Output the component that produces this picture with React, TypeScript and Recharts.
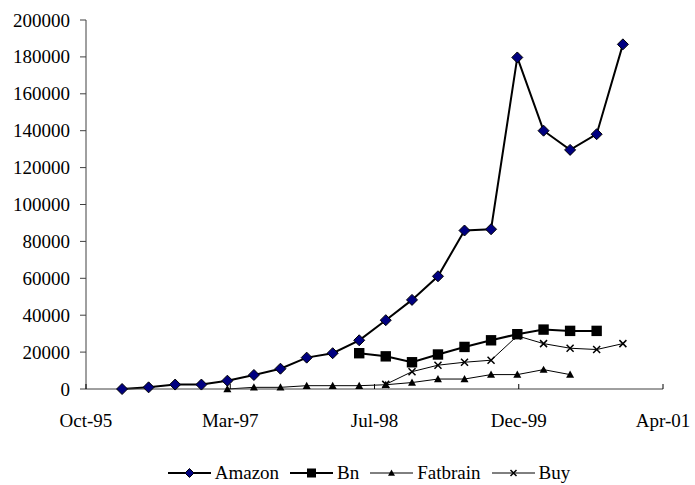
import React from "react"
import { LineChart, Line, XAxis, YAxis, Legend } from "recharts"

// quarterly observations (first day of the quarter's last month)
const quarters = [
  "Mar-96", "Jun-96", "Sep-96", "Dec-96", "Mar-97", "Jun-97", "Sep-97", "Dec-97",
  "Mar-98", "Jun-98", "Sep-98", "Dec-98", "Mar-99", "Jun-99", "Sep-99", "Dec-99",
  "Mar-00", "Jun-00", "Sep-00", "Dec-00",
]

const amazon = [
  0, 900, 2400, 2400, 4500, 7600, 11000, 17000, 19400, 26400,
  37300, 48300, 61100, 85900, 86600, 179700, 140000, 129600, 138100, 186800,
]
const bn = [
  null, null, null, null, null, null, null, null, null, 19400,
  17700, 14500, 18700, 22800, 26400, 29700, 32200, 31500, 31500, null,
]
const fatbrain = [
  null, null, null, null, 0, 900, 900, 1800, 1800, 1800,
  2300, 3500, 5400, 5400, 7800, 7800, 10500, 7800, null, null,
]
const buy = [
  null, null, null, null, null, null, null, null, null, null,
  2500, 9400, 12900, 14500, 15600, 28800, 24600, 22100, 21400, 24600,
]

const yTicks = [0, 20000, 40000, 60000, 80000, 100000, 120000, 140000, 160000, 180000, 200000]
// excel date serials, 500 days apart
const xTicks = [35000, 35500, 36000, 36500, 37000]
const xTickLabels = ["Oct-95", "Mar-97", "Jul-98", "Dec-99", "Apr-01"]

const monthNames = ["Jan", "Feb", "Mar", "Apr", "May", "Jun", "Jul", "Aug", "Sep", "Oct", "Nov", "Dec"]

function toSerial(label: string) {
  const [m, y] = label.split("-")
  const yy = Number(y) < 50 ? 2000 + Number(y) : 1900 + Number(y)
  return Date.UTC(yy, monthNames.indexOf(m), 1) / 86400000 + 25569
}

const data = quarters.map((q, i) => ({
  x: toSerial(q),
  Amazon: amazon[i],
  Bn: bn[i],
  Fatbrain: fatbrain[i],
  Buy: buy[i],
}))

const FONT = '"Liberation Serif"'
const fontCss = `#root .chart-box, #root .chart-box text, #root .chart-box span, #root .chart-box div { font-family: "Liberation Serif", serif !important; }`

function Marker({ kind, cx, cy, small }: { kind: string; cx: number; cy: number; small?: boolean }) {
  if (kind === "diamond") {
    const r = small ? 4.5 : 5.5
    return <path d={`M${cx},${cy - r}L${cx + r},${cy}L${cx},${cy + r}L${cx - r},${cy}Z`} fill="#000080" stroke="#000" strokeWidth={1} />
  }
  if (kind === "square") {
    const r = small ? 4.5 : 5.2
    return <rect x={cx - r} y={cy - r} width={r * 2} height={r * 2} fill="#000" />
  }
  if (kind === "triangle") {
    const r = small ? 3.5 : 4
    return <path d={`M${cx},${cy - r}L${cx + r},${cy + r * 0.8}L${cx - r},${cy + r * 0.8}Z`} fill="#000" />
  }
  const r = small ? 3 : 3.5
  return <path d={`M${cx - r},${cy - r}L${cx + r},${cy + r}M${cx + r},${cy - r}L${cx - r},${cy + r}`} stroke="#000" strokeWidth={1.5} fill="none" />
}

const makeDot = (kind: string) => (p: any) => {
  if (p.cx == null || p.cy == null || p.value == null) return <g key={`e-${kind}-${p.index}`} />
  return (
    <g key={`d-${kind}-${p.index}`}>
      <Marker kind={kind} cx={p.cx} cy={p.cy} />
    </g>
  )
}

function XTick(props: any) {
  const { x, y, index } = props
  return (
    <g>
      <line x1={x} y1={y} x2={x} y2={y - 5} stroke="#000" strokeWidth={1} />
      <text x={x} y={y + 38} textAnchor="middle" fontFamily={FONT} fontSize={19} fill="#000">
        {xTickLabels[index]}
      </text>
    </g>
  )
}

function YTick(props: any) {
  const { x, y, payload } = props
  return (
    <text x={x} y={y} dy={6.5} textAnchor="end" fontFamily={FONT} fontSize={19} fill="#000">
      {payload.value}
    </text>
  )
}

const series = [
  { key: "Amazon", kind: "diamond", width: 2 },
  { key: "Bn", kind: "square", width: 2 },
  { key: "Fatbrain", kind: "triangle", width: 1 },
  { key: "Buy", kind: "cross", width: 1 },
]

function LegendContent() {
  return (
    <div style={{ display: "flex", justifyContent: "center", height: 40, paddingTop: 19, boxSizing: "border-box" }}>
      {series.map((s) => (
        <div key={s.key} style={{ display: "flex", alignItems: "center", marginRight: 11 }}>
          <svg width={43} height={14} style={{ marginRight: 4 }}>
            <line x1={0} y1={7} x2={43} y2={7} stroke="#000" strokeWidth={s.width} />
            <Marker kind={s.kind} cx={21.5} cy={7} small />
          </svg>
          <span style={{ fontFamily: FONT, fontSize: 19, lineHeight: "21px", color: "#000" }}>{s.key}</span>
        </div>
      ))}
    </div>
  )
}

export default function App() {
  return (
    <div className="chart-box" style={{ position: "absolute", left: 0, top: 0, width: 695, height: 485, background: "#fff" }}>
      <style>{fontCss}</style>
      <LineChart width={695} height={485} data={data} margin={{ top: 20, right: 32, left: 0, bottom: 2 }}>
        <XAxis
          dataKey="x"
          type="number"
          domain={[35000, 37000]}
          ticks={xTicks}
          tick={<XTick />}
          tickLine={false}
          tickSize={0}
          tickMargin={0}
          height={54}
          axisLine={{ stroke: "#404040", strokeWidth: 1 }}
          allowDataOverflow
        />
        <YAxis
          type="number"
          domain={[0, 200000]}
          ticks={yTicks}
          width={86}
          tickSize={6}
          tickMargin={10}
          tick={<YTick />}
          tickLine={{ stroke: "#404040" }}
          axisLine={{ stroke: "#404040", strokeWidth: 1 }}
          interval={0}
        />
        <Legend
          verticalAlign="bottom"
          content={<LegendContent />}
          wrapperStyle={{ left: 86, width: 577 }}
        />
        {series.map((s) => (
          <Line
            key={s.key}
            dataKey={s.key}
            type="linear"
            stroke="#000"
            strokeWidth={s.width}
            dot={makeDot(s.kind)}
            activeDot={false}
            isAnimationActive={false}
          />
        ))}
      </LineChart>
    </div>
  )
}
